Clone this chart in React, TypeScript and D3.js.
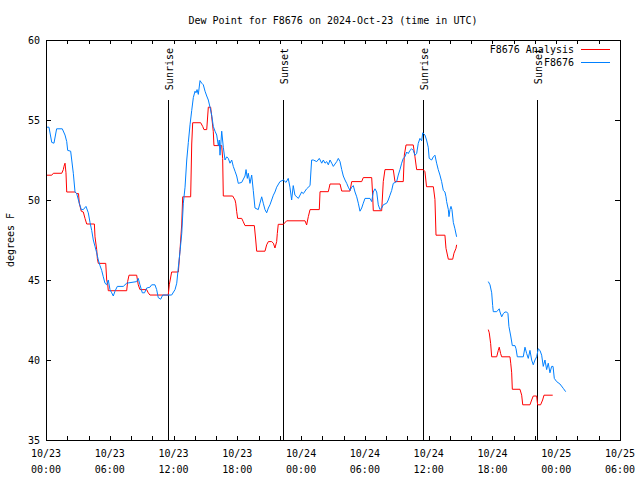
import React from "react";
import * as d3 from "d3";

const TITLE = "Dew Point for F8676 on 2024-Oct-23 (time in UTC)";
const Y_LABEL = "degrees F";
const START = Date.UTC(2024, 9, 23, 0, 0);
const END = Date.UTC(2024, 9, 25, 6, 0);
const Y_TICKS = [35, 40, 45, 50, 55, 60];

// [hours since 2024-10-23 00:00 UTC, dew point °F]
const analysis: [number, number | null][] = [
  [0.0, 51.55], [0.54, 51.55], [0.69, 51.67], [1.48, 51.67], [1.63, 51.9], [1.69, 52.1], [1.79, 52.3],
  [1.88, 51.7], [1.95, 50.5], [2.73, 50.5], [2.89, 50.4], [3.06, 50.4], [3.13, 49.8], [3.32, 49.3],
  [3.51, 49.25], [3.67, 48.85], [3.83, 48.5], [4.55, 48.5], [4.61, 47.7], [4.77, 46.9], [4.83, 46.35],
  [4.92, 46.04], [5.62, 46.04], [5.71, 45.0], [5.81, 44.7], [5.86, 44.33], [7.59, 44.33], [7.68, 44.9],
  [7.81, 45.3], [8.53, 45.3], [8.68, 44.7], [8.84, 44.4], [9.47, 44.4], [9.62, 44.2], [9.78, 44.06],
  [11.5, 44.06], [11.6, 44.7], [11.82, 45.5], [12.45, 45.5], [12.61, 46.9], [12.77, 48.5], [12.86, 50.2],
  [13.61, 50.2], [13.71, 53.5], [13.8, 54.83], [14.55, 54.83], [14.74, 54.6], [14.86, 54.4], [15.12, 54.4],
  [15.27, 55.8], [15.49, 55.8], [15.59, 55.2], [15.74, 54.27], [15.8, 53.4], [16.53, 53.4], [16.62, 52.6],
  [16.68, 50.25], [17.56, 50.25], [17.78, 50.0], [17.85, 49.8], [17.94, 49.27], [18.03, 48.85],
  [18.41, 48.85], [18.56, 48.64], [18.72, 48.4], [19.6, 48.4], [19.73, 47.5], [19.82, 46.8], [20.6, 46.8],
  [20.76, 47.2], [20.92, 47.4], [21.23, 47.4], [21.39, 47.3], [21.54, 47.0], [21.7, 47.4], [21.76, 47.9],
  [21.85, 48.48], [22.33, 48.48], [22.64, 48.7], [24.37, 48.7], [24.52, 48.44], [24.68, 48.96],
  [24.84, 49.4], [25.71, 49.4], [25.78, 50.52], [26.56, 50.52], [26.72, 51.0], [27.66, 51.0],
  [27.82, 50.56], [28.6, 50.56], [28.76, 51.15], [29.7, 51.15], [29.85, 51.4], [30.64, 51.4],
  [30.73, 50.3], [30.79, 49.33], [31.58, 49.33], [31.73, 51.15], [31.89, 51.9], [32.67, 51.9],
  [32.83, 51.15], [33.61, 51.15], [33.71, 52.8], [33.87, 53.44], [34.55, 53.44], [34.71, 52.7],
  [34.87, 51.9], [35.49, 51.9], [35.65, 51.77], [35.8, 50.83], [36.44, 50.83], [36.59, 50.04],
  [36.69, 47.8], [37.53, 47.8], [37.63, 46.98], [37.85, 46.3], [38.26, 46.3], [38.38, 46.67],
  [38.57, 46.98], [38.63, 47.2],
  [40.0, null],
  [41.61, 41.9], [41.7, 41.7], [41.83, 41.04], [41.93, 40.2], [42.4, 40.2], [42.55, 40.6], [42.64, 40.8],
  [42.77, 40.4], [42.87, 40.2], [43.65, 40.2], [43.72, 39.8], [43.81, 39.2], [43.87, 38.17], [44.59, 38.17],
  [44.75, 37.8], [44.85, 37.2], [45.53, 37.2], [45.69, 37.5], [45.84, 37.75], [46.16, 37.75], [46.25, 37.2],
  [46.53, 37.2], [46.72, 37.5], [46.85, 37.8], [47.67, 37.8],
];

const observed: [number, number | null][] = [
  [0.0, 54.55], [0.28, 54.55], [0.54, 53.6], [0.75, 53.55], [1.0, 54.45], [1.53, 54.45], [1.79, 54.06],
  [1.95, 53.65], [2.04, 53.1], [2.32, 53.05], [2.42, 52.5], [2.51, 52.0], [2.57, 51.67], [2.73, 50.5],
  [2.89, 50.4], [3.13, 49.8], [3.32, 49.4], [3.51, 49.4], [3.76, 49.6], [3.98, 49.2], [4.14, 48.6],
  [4.3, 48.1], [4.45, 47.5], [4.61, 47.1], [4.77, 46.7], [4.92, 46.25], [5.08, 45.9], [5.24, 45.6],
  [5.39, 45.2], [5.55, 44.8], [5.71, 44.7], [5.86, 45.0], [6.02, 44.4], [6.18, 44.2], [6.33, 44.0],
  [6.49, 44.3], [6.71, 44.6], [7.27, 44.6], [7.59, 44.8], [8.53, 44.9], [8.68, 45.1], [8.84, 44.7],
  [9.06, 44.2], [9.27, 44.2], [9.47, 44.5], [9.78, 44.55], [9.94, 44.7], [10.25, 44.7], [10.41, 44.4],
  [10.56, 43.9], [10.79, 43.8], [10.98, 44.06], [11.82, 44.06], [12.14, 44.4], [12.3, 44.8], [12.45, 45.8],
  [12.61, 46.8], [12.77, 47.9], [12.92, 49.8], [13.08, 50.8], [13.24, 52.5], [13.39, 53.6], [13.55, 54.7],
  [13.71, 55.6], [13.86, 56.4], [14.02, 56.8], [14.11, 56.7], [14.21, 56.9], [14.33, 56.6], [14.49, 57.46],
  [14.65, 57.3], [14.8, 57.2], [14.96, 56.8], [15.12, 56.5], [15.27, 56.25], [15.43, 55.8], [15.59, 55.3],
  [15.74, 54.6], [15.9, 54.3], [16.06, 54.06], [16.21, 53.4], [16.3, 53.75], [16.37, 52.8], [16.53, 54.3],
  [16.68, 53.3], [16.84, 52.5], [17.0, 52.7], [17.15, 52.6], [17.31, 52.3], [17.47, 52.5], [17.62, 52.1],
  [17.78, 51.8], [17.94, 51.5], [18.09, 51.04], [18.41, 51.1], [18.72, 51.5], [18.82, 51.9], [18.94, 51.35],
  [19.03, 51.67], [19.19, 51.04], [19.35, 51.56], [19.5, 50.6], [19.66, 49.5], [19.97, 49.4], [20.13, 49.8],
  [20.29, 50.2], [20.44, 49.8], [20.6, 49.4], [20.76, 49.2], [20.92, 49.5], [21.07, 49.7], [21.23, 50.0],
  [21.39, 50.3], [21.54, 50.5], [21.7, 50.8], [22.01, 51.15], [22.33, 51.25], [22.58, 51.1], [22.79, 51.35],
  [22.95, 50.8], [23.11, 50.0], [23.26, 50.9], [23.42, 50.3], [23.74, 50.1], [24.05, 50.5], [24.21, 50.4],
  [24.52, 50.7], [24.84, 50.9], [24.99, 52.5], [25.15, 52.5], [25.47, 52.4], [25.71, 52.6], [25.94, 52.3],
  [26.09, 52.5], [26.25, 52.3], [26.41, 52.4], [26.56, 52.2], [26.72, 52.5], [26.88, 52.3], [27.03, 52.1],
  [27.35, 52.4], [27.5, 52.6], [27.66, 52.4], [27.82, 51.9], [27.97, 51.5], [28.13, 51.25], [28.29, 51.04],
  [28.44, 50.8], [28.6, 50.6], [28.76, 50.8], [28.91, 50.9], [29.07, 50.5], [29.23, 50.2], [29.38, 49.8],
  [29.54, 49.3], [29.7, 49.5], [29.85, 49.8], [30.01, 50.1], [30.48, 50.1], [30.64, 49.9], [30.79, 50.5],
  [30.95, 50.7], [31.11, 50.5], [31.26, 49.7], [31.42, 49.4], [31.58, 49.5], [31.73, 49.7], [32.05, 49.8],
  [32.2, 50.0], [32.36, 50.3], [32.52, 50.6], [32.67, 51.04], [32.99, 51.15], [33.14, 51.56], [33.3, 51.9],
  [33.46, 52.3], [33.61, 52.6], [33.77, 52.7], [33.93, 53.0], [34.08, 52.9], [34.24, 53.1], [34.4, 53.2],
  [34.55, 53.1], [34.71, 52.8], [34.87, 52.9], [35.02, 53.54], [35.18, 53.85], [35.34, 53.7], [35.44, 54.2],
  [35.65, 54.06], [35.8, 53.75], [35.96, 53.3], [36.05, 52.6], [36.28, 52.5], [36.44, 52.7], [36.59, 52.8],
  [36.75, 52.3], [36.9, 51.9], [37.06, 51.56], [37.22, 51.15], [37.38, 50.6], [37.53, 50.5], [37.63, 50.2],
  [37.69, 49.9], [37.85, 49.4], [37.91, 48.96], [38.01, 49.4], [38.1, 49.6], [38.19, 49.4], [38.32, 48.6],
  [38.47, 48.2], [38.63, 47.7],
  [40.0, null],
  [41.61, 44.9], [41.77, 44.7], [41.93, 44.2], [42.02, 43.4], [42.08, 43.02], [42.4, 43.02], [42.64, 43.2],
  [42.71, 43.0], [42.87, 42.7], [43.02, 42.9], [43.18, 43.0], [43.34, 43.0], [43.46, 42.9], [43.55, 42.1],
  [43.72, 41.5], [43.87, 40.9], [44.12, 40.9], [44.22, 40.7], [44.34, 40.2], [44.9, 40.2], [45.06, 40.8],
  [45.22, 40.4], [45.37, 40.1], [45.53, 40.6], [45.69, 40.0], [45.84, 39.7], [46.0, 40.0], [46.16, 40.2],
  [46.31, 40.7], [46.47, 40.6], [46.63, 40.3], [46.78, 39.6], [46.94, 40.0], [47.1, 39.4], [47.25, 39.8],
  [47.41, 39.2], [47.57, 39.6], [47.7, 39.6], [47.82, 38.85], [48.04, 38.65], [48.35, 38.5], [48.66, 38.23],
  [48.89, 38.02],
];

const sunEvents: [number, string][] = [
  [11.5, "Sunrise"],
  [22.25, "Sunset"],
  [35.5, "Sunrise"],
  [46.2, "Sunset"],
];

const SERIES_NAMES = ["F8676 Analysis", "F8676"];
const SERIES_COLORS = ["#ff0000", "#0080ff"];

const W = 640, H = 480;
const L = 46, R = 620, T = 40, B = 440;
const FONT = "'DejaVu Sans Mono', monospace";

export default function App() {
  const x = d3.scaleUtc().domain([new Date(START), new Date(END)]).range([L, R]);
  const y = d3.scaleLinear().domain([35, 60]).range([B, T]);
  const toDate = (h: number) => new Date(START + h * 3600000);

  const line = d3
    .line<[number, number | null]>()
    .defined((d) => d[1] !== null)
    .x((d) => x(toDate(d[0])))
    .y((d) => y(d[1] as number));

  const minor = d3.utcHour.every(2)!.range(new Date(START), new Date(END + 1));
  const major = d3.utcHour.every(6)!.range(new Date(START), new Date(END + 1));
  const fmtD = d3.utcFormat("%m/%d");
  const fmtT = d3.utcFormat("%H:%M");

  return (
    <svg
      width={W}
      height={H}
      style={{ position: "absolute", left: 0, top: 0, background: "#fff" }}
      fontFamily={FONT}
      fontSize={10}
    >
      <rect x={0} y={0} width={W} height={H} fill="#fff" />
      <text x={(L + R) / 2} y={24} textAnchor="middle" fill="#000">
        {TITLE}
      </text>
      <text
        transform={`translate(14,${(T + B) / 2}) rotate(-90)`}
        textAnchor="middle"
        fill="#000"
      >
        {Y_LABEL}
      </text>

      {/* ticks */}
      <g stroke="#000" strokeWidth={1} shapeRendering="crispEdges">
        {minor.map((d, i) => {
          const xx = Math.round(x(d)) + 0.5;
          return (
            <g key={"mx" + i}>
              <line x1={xx} x2={xx} y1={B} y2={B - 4} />
              <line x1={xx} x2={xx} y1={T} y2={T + 4} />
            </g>
          );
        })}
        {Y_TICKS.map((v, i) => {
          const yy = Math.round(y(v)) + 0.5;
          return (
            <g key={"yt" + i}>
              <line x1={L} x2={L + 5} y1={yy} y2={yy} />
              <line x1={R} x2={R - 5} y1={yy} y2={yy} />
            </g>
          );
        })}
      </g>

      {Y_TICKS.map((v, i) => (
        <text key={"yl" + i} x={40} y={y(v) + 4} textAnchor="end" fill="#000">
          {v}
        </text>
      ))}
      {major.map((d, i) => (
        <text key={"xl" + i} x={x(d)} textAnchor="middle" fill="#000">
          <tspan x={x(d)} y={457}>{fmtD(d)}</tspan>
          <tspan x={x(d)} y={473}>{fmtT(d)}</tspan>
        </text>
      ))}

      {/* sunrise / sunset */}
      {sunEvents.map(([h, label], i) => {
        const xx = Math.round(x(toDate(h))) + 0.5;
        return (
          <g key={"sun" + i}>
            <line x1={xx} x2={xx} y1={100} y2={B} stroke="#000" strokeWidth={1} shapeRendering="crispEdges" />
            <text
              transform={`translate(${xx + 4},${48}) rotate(-90)`}
              textAnchor="end"
              fill="#000"
            >
              {label}
            </text>
          </g>
        );
      })}

      {/* series */}
      <path d={line(analysis) || ""} fill="none" stroke={SERIES_COLORS[0]} strokeWidth={1} />
      <path d={line(observed) || ""} fill="none" stroke={SERIES_COLORS[1]} strokeWidth={1} />

      {/* legend */}
      {SERIES_NAMES.map((name, i) => (
        <g key={"lg" + i}>
          <text x={574} y={53 + i * 13} textAnchor="end" fill="#000">
            {name}
          </text>
          <line
            x1={581}
            x2={610}
            y1={49.5 + i * 13}
            y2={49.5 + i * 13}
            stroke={SERIES_COLORS[i]}
            strokeWidth={1}
          />
        </g>
      ))}

      {/* frame */}
      <rect
        x={L + 0.5}
        y={T + 0.5}
        width={R - L}
        height={B - T}
        fill="none"
        stroke="#000"
        strokeWidth={1}
        shapeRendering="crispEdges"
      />
    </svg>
  );
}
